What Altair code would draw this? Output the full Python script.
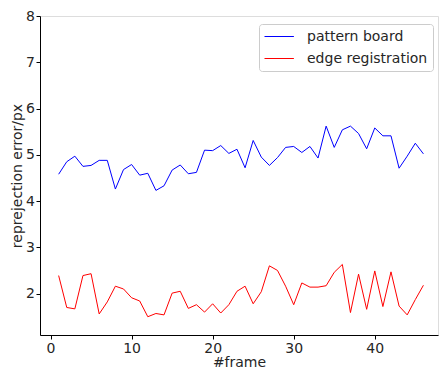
import altair as alt
import pandas as pd

frames = list(range(1, 47))
pattern_board = [4.58, 4.85, 4.97, 4.75, 4.77, 4.88, 4.88, 4.26, 4.68, 4.79,
                 4.56, 4.60, 4.23, 4.33, 4.67, 4.78, 4.59, 4.62, 5.10, 5.09,
                 5.20, 5.03, 5.12, 4.72, 5.31, 4.95, 4.77, 4.94, 5.16, 5.18,
                 5.05, 5.18, 4.93, 5.62, 5.16, 5.54, 5.62, 5.46, 5.13, 5.58,
                 5.41, 5.41, 4.71, 4.97, 5.25, 5.02]
edge_registration = [2.39, 1.70, 1.67, 2.39, 2.43, 1.56, 1.82, 2.16, 2.10, 1.91,
                     1.84, 1.50, 1.57, 1.54, 2.01, 2.05, 1.68, 1.76, 1.60, 1.78,
                     1.58, 1.76, 2.05, 2.16, 1.78, 2.04, 2.60, 2.50, 2.16, 1.76,
                     2.23, 2.14, 2.14, 2.17, 2.46, 2.63, 1.59, 2.42, 1.66, 2.49,
                     1.72, 2.47, 1.73, 1.54, 1.87, 2.18]
series_names = ["pattern board", "edge registration"]
series_colors = ["#0000ff", "#ff0000"]

rows = []
for f, a, b in zip(frames, pattern_board, edge_registration):
    rows.append({"frame": f, "value": a, "series": series_names[0]})
    rows.append({"frame": f, "value": b, "series": series_names[1]})
df = pd.DataFrame(rows)

font = "DejaVu Sans"
txt = "#262626"

axis_common = dict(grid=False, tickSize=4, labelFontSize=14, titleFontSize=14,
                   titleFontWeight="normal", domainColor="black", tickColor="black",
                   labelColor=txt, titleColor=txt, labelFlush=False)

chart = alt.Chart(df).mark_line(strokeWidth=1, clip=True).encode(
    x=alt.X("frame:Q", scale=alt.Scale(domain=[-1.3, 47.8], nice=False, zero=False),
            axis=alt.Axis(values=[0, 10, 20, 30, 40], title="#frame",
                          labelPadding=2, titlePadding=0, **axis_common)),
    y=alt.Y("value:Q", scale=alt.Scale(domain=[1.105, 8], nice=False, zero=False),
            axis=alt.Axis(values=[2, 3, 4, 5, 6, 7, 8], title="reprejection error/px",
                          labelPadding=1.5, titlePadding=1, **axis_common)),
    color=alt.Color("series:N", scale=alt.Scale(domain=series_names, range=series_colors),
                    sort=series_names,
                    legend=alt.Legend(title=None, orient="none", legendX=219, legendY=8,
                                      symbolType="M-1,0H3.2", symbolSize=196,
                                      symbolStrokeWidth=1, symbolFillColor="transparent",
                                      labelFontSize=14,
                                      labelOffset=28, rowPadding=7, padding=5,
                                      fillColor="white", strokeColor="#cccccc",
                                      cornerRadius=3, labelColor=txt,
                                      labelLimit=300)),
).properties(
    width=398, height=319,
    autosize=alt.AutoSizeParams(type="none"),
    padding={"left": 40, "top": 16, "right": 1, "bottom": 35},
).configure_view(stroke="black", strokeWidth=1).configure(font=font)

chart.save("out.html", embed_options={"renderer": "svg", "actions": False})
